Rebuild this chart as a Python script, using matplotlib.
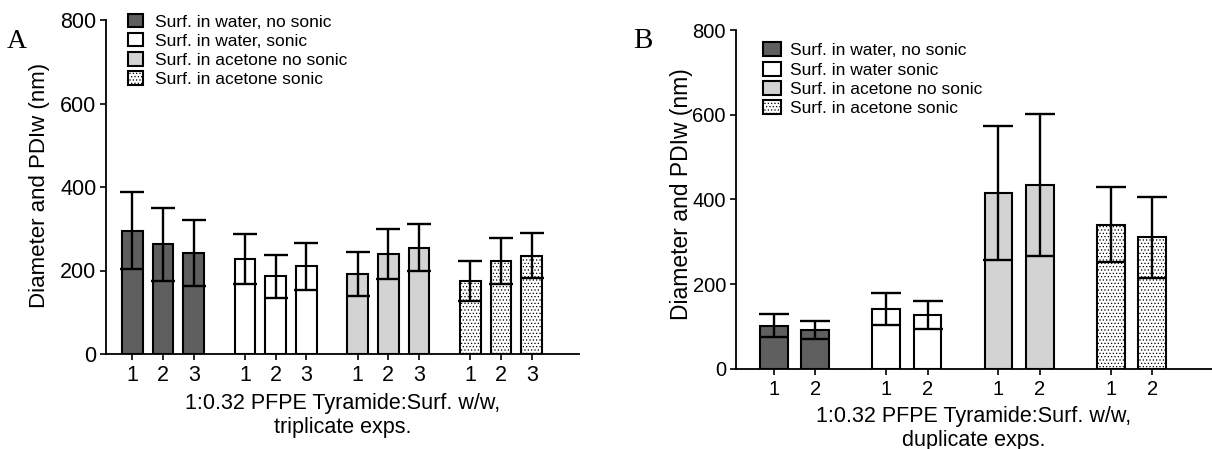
import matplotlib
matplotlib.use("Agg")
import matplotlib.pyplot as plt
import numpy as np

# ---------------- data ----------------
series_labels_A = ["Surf. in water, no sonic", "Surf. in water, sonic",
                   "Surf. in acetone no sonic", "Surf. in acetone sonic"]
series_labels_B = ["Surf. in water, no sonic", "Surf. in water sonic",
                   "Surf. in acetone no sonic", "Surf. in acetone sonic"]

exp_labels_A = ["1", "2", "3"]
exp_labels_B = ["1", "2"]

# Panel A (triplicate)
A_water_nosonic = [295, 263, 242]
A_water_nosonic_err = [92, 87, 78]
A_water_sonic = [228, 186, 210]
A_water_sonic_err = [60, 51, 56]
A_acetone_nosonic = [192, 240, 255]
A_acetone_nosonic_err = [53, 60, 57]
A_acetone_sonic = [174, 222, 235]
A_acetone_sonic_err = [48, 55, 54]

# Panel B (duplicate)
B_water_nosonic = [102, 91]
B_water_nosonic_err = [27, 22]
B_water_sonic = [141, 126]
B_water_sonic_err = [38, 33]
B_acetone_nosonic = [415, 434]
B_acetone_nosonic_err = [159, 168]
B_acetone_sonic = [340, 310]
B_acetone_sonic_err = [89, 96]

y_ticks = [0, 200, 400, 600, 800]
y_label = "Diameter and PDIw (nm)"
x_label_A = "1:0.32 PFPE Tyramide:Surf. w/w,\ntriplicate exps."
x_label_B = "1:0.32 PFPE Tyramide:Surf. w/w,\nduplicate exps."

# ---------------- styles ----------------
plt.rcParams['font.family'] = ['Liberation Sans', 'DejaVu Sans']
plt.rcParams['hatch.linewidth'] = 0.5

fills = ["#5f5f5f", "#ffffff", "#d3d3d3", "#ffffff"]
hatches = [None, None, None, "....."]

W, H = 1212, 449
fig = plt.figure(figsize=(W / 100, H / 100), dpi=100)


def px_axes(left, right, bottom, top):
    return fig.add_axes([left / W, 1 - bottom / H, (right - left) / W, (bottom - top) / H])


def draw_panel(ax, groups, errs, exp_labels, step, width, xlim, capsize,
               tick_fs, labels, leg_fs, hlen, hh, htp, lspace):
    n = len(exp_labels)
    handles = []
    all_pos = []
    all_lab = []
    for g, (vals, ev) in enumerate(zip(groups, errs)):
        pos = g * step + np.arange(n)
        b = ax.bar(pos, vals, width=width, color=fills[g], edgecolor='black',
                   linewidth=1.5, hatch=hatches[g], zorder=2, label=labels[g])
        handles.append(b)
        all_pos.extend(pos)
        all_lab.extend(exp_labels)
    # error bars drawn on top of every bar
    for g, (vals, ev) in enumerate(zip(groups, errs)):
        pos = g * step + np.arange(n)
        ax.errorbar(pos, vals, yerr=ev, fmt='none', ecolor='black',
                    elinewidth=1.7, capsize=capsize, capthick=1.7, zorder=10)
    ax.set_xticks(all_pos)
    ax.set_xticklabels(all_lab)
    ax.set_xlim(*xlim)
    ax.set_ylim(0, 800)
    ax.set_yticks(y_ticks)
    for s in ['top', 'right']:
        ax.spines[s].set_visible(False)
    for s in ['left', 'bottom']:
        ax.spines[s].set_linewidth(1.3)
        ax.spines[s].set_zorder(12)
    ax.tick_params(axis='both', direction='out', length=4.5, width=1.2,
                   labelsize=tick_fs, pad=2.5)
    ax.tick_params(axis='x', pad=3.5)
    leg = ax.legend(handles=handles, loc='upper left', frameon=False,
                    fontsize=leg_fs, borderpad=0, borderaxespad=0,
                    handlelength=hlen, handleheight=hh, handletextpad=htp,
                    labelspacing=lspace)
    return leg


# Panel A
axA = px_axes(106, 579, 354, 20)
legA = draw_panel(axA,
                  [A_water_nosonic, A_water_sonic, A_acetone_nosonic, A_acetone_sonic],
                  [A_water_nosonic_err, A_water_sonic_err, A_acetone_nosonic_err, A_acetone_sonic_err],
                  exp_labels_A, 3.67, 0.674, (-0.857, 14.55), 8.4, 15.5,
                  series_labels_A, 12.5, 0.86, 0.8, 0.67, 0.2)
legA.set_bbox_to_anchor((128.3 / W, 1 - 14.0 / H), transform=fig.transFigure)
axA.set_ylabel(y_label, fontsize=16)
axA.yaxis.set_label_coords((40 - 106) / 473, (354 - 185) / 334)
axA.yaxis.label.set_va('center')
axA.set_xlabel(x_label_A, fontsize=15.5, linespacing=1.2)
axA.xaxis.set_label_coords(0.5, (354 - 393) / 334)
axA.xaxis.label.set_va('top')

# Panel B
axB = px_axes(735.7, 1212, 368.7, 30)
legB = draw_panel(axB,
                  [B_water_nosonic, B_water_sonic, B_acetone_nosonic, B_acetone_sonic],
                  [B_water_nosonic_err, B_water_sonic_err, B_acetone_nosonic_err, B_acetone_sonic_err],
                  exp_labels_B, 2.707, 0.667, (-0.918, 10.56), 10.8, 14.5,
                  series_labels_B, 12.5, 1.08, 0.86, 0.52, 0.19)
legB.set_bbox_to_anchor((762.7 / W, 1 - 42.5 / H), transform=fig.transFigure)
axB.set_ylabel(y_label, fontsize=16.5)
axB.yaxis.set_label_coords((681.4 - 735.7) / 476.3, (368.7 - 194) / 338.7)
axB.yaxis.label.set_va('center')
axB.set_xlabel(x_label_B, fontsize=15.5, linespacing=1.2)
axB.xaxis.set_label_coords(0.5, (368.7 - 406) / 338.7)
axB.xaxis.label.set_va('top')

# Panel letters
fig.text(7 / W, 1 - 48.3 / H, "A", fontsize=20, family=['Liberation Serif'], va='baseline')
fig.text(633 / W, 1 - 47.7 / H, "B", fontsize=21, family=['Liberation Serif'], va='baseline')

fig.savefig("out.png", dpi=100)
